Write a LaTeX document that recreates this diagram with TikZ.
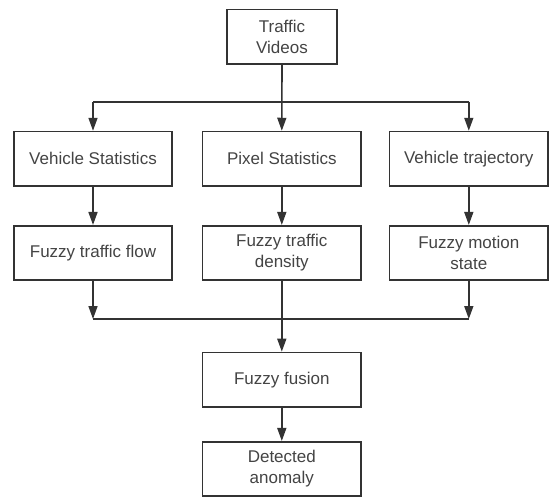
\documentclass[tikz,border=0pt]{standalone}
\usepackage{fontspec}
\setmainfont{Liberation Sans}
\usetikzlibrary{arrows.meta}
\definecolor{linec}{HTML}{333333}
\definecolor{textc}{HTML}{444444}
\begin{document}
\begin{tikzpicture}[x=1pt,y=-1pt,
  box/.style={draw=linec, line width=1.6pt, fill=white, minimum width=158.5pt, minimum height=54.5pt, inner sep=0pt, align=center, text=textc, font=\fontsize{17}{21}\selectfont},
  conn/.style={draw=linec, line width=1.6pt},
  arr/.style={conn, -{Triangle[length=13pt,width=9pt]}}]
\useasboundingbox (0,0) rectangle (549,496);
\node[box, minimum width=110pt] (tv) at (282,36.7) {Traffic\\Videos};
\node[box] (vs) at (93,158.8) {Vehicle Statistics};
\node[box] (ps) at (281.8,158.8) {Pixel Statistics};
\node[box] (vt) at (468.8,158.8) {Vehicle trajectory};
\node[box] (ff) at (93,253) {Fuzzy traffic flow};
\node[box] (fd) at (281.8,253) {Fuzzy traffic\\density};
\node[box] (fm) at (468.8,253) {Fuzzy motion\\state};
\node[box] (fu) at (281.8,379.7) {Fuzzy fusion};
\node[box] (da) at (281.8,469) {Detected\\anomaly};
\coordinate (tl) at (93,101.7);
\coordinate (tr) at (468.8,101.7);
\coordinate (bl) at (93,319);
\coordinate (br) at (468.8,319);
% top distribution
\draw[arr] (tv.south) -- (ps.north);
\draw[conn] (tl) -- (tr);
\draw[arr] (tl) -- (vs.north);
\draw[arr] (tr) -- (vt.north);
% row arrows
\draw[arr] (vs) -- (ff);
\draw[arr] (ps) -- (fd);
\draw[arr] (vt) -- (fm);
% bottom collection
\draw[arr] (ff.south) -- (bl);
\draw[arr] (fm.south) -- (br);
\draw[conn] (bl) -- (br);
\draw[arr] (fd.south) -- (fu.north);
\draw[arr] (fu) -- (da);
\end{tikzpicture}
\end{document}
